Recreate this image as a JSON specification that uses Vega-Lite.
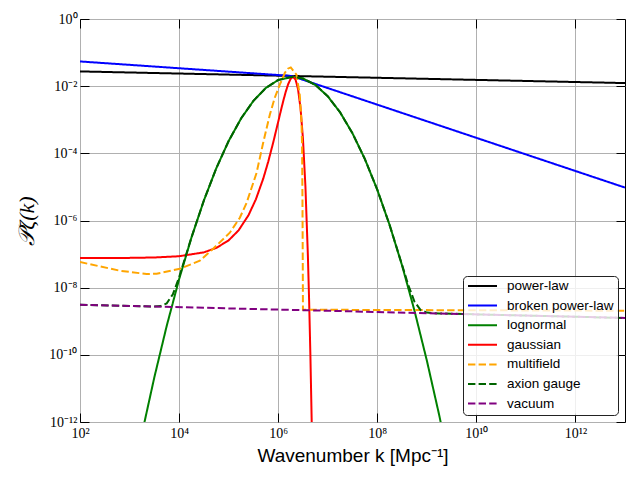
{
  "$schema": "https://vega.github.io/schema/vega-lite/v6.json",
  "width": 545,
  "height": 403,
  "autosize": {"type": "none"},
  "padding": {"left": 80, "top": 19, "right": 15, "bottom": 58},
  "background": "white",
  "config": {
    "view": {"stroke": "black", "strokeWidth": 1},
    "axis": {
      "labelFont": "Liberation Serif",
      "labelFontSize": 14,
      "labelColor": "black",
      "tickColor": "black",
      "tickWidth": 1,
      "tickSize": -9,
      "labelFlush": false,
      "labelOverlap": false,
      "domain": false,
      "gridColor": "#b0b0b0",
      "gridWidth": 1,
      "gridOpacity": 1
    },
    "legend": {
      "title": null,
      "orient": "bottom-right",
      "offset": 7,
      "fillColor": "rgba(255,255,255,0.8)",
      "strokeColor": "#222222",
      "cornerRadius": 4,
      "padding": 4,
      "labelFont": "Liberation Sans",
      "labelFontSize": 13.5,
      "labelColor": "black",
      "labelOffset": 9,
      "symbolType": "stroke",
      "symbolStrokeWidth": 2,
      "symbolSize": 841,
      "clipHeight": 12,
      "rowPadding": 5.6
    }
  },
  "datasets": {
    "curves": [
      {"series": "power-law", "k": 100, "P": 2.748e-2},
      {"series": "power-law", "k": 3.162e7, "P": 1.843e-2},
      {"series": "power-law", "k": 1e13, "P": 1.236e-2},

      {"series": "broken power-law", "k": 100, "P": 5.445e-2},
      {"series": "broken power-law", "k": 1.862e6, "P": 2.014e-2},
      {"series": "broken power-law", "k": 1e13, "P": 9.55e-6},

      {"series": "lognormal", "k": 1000, "P": 6.761e-15},
      {"series": "lognormal", "k": 1778, "P": 4.487e-13},
      {"series": "lognormal", "k": 3162, "P": 2.128e-11},
      {"series": "lognormal", "k": 5623, "P": 7.261e-10},
      {"series": "lognormal", "k": 10000, "P": 1.774e-8},
      {"series": "lognormal", "k": 17783, "P": 3.119e-7},
      {"series": "lognormal", "k": 31623, "P": 3.936e-6},
      {"series": "lognormal", "k": 56234, "P": 3.573e-5},
      {"series": "lognormal", "k": 100000, "P": 2.323e-4},
      {"series": "lognormal", "k": 177828, "P": 1.086e-3},
      {"series": "lognormal", "k": 316228, "P": 3.648e-3},
      {"series": "lognormal", "k": 562341, "P": 8.81e-3},
      {"series": "lognormal", "k": 1000000, "P": 1.524e-2},
      {"series": "lognormal", "k": 1949845, "P": 1.905e-2},
      {"series": "lognormal", "k": 3162278, "P": 1.694e-2},
      {"series": "lognormal", "k": 5623413, "P": 1.089e-2},
      {"series": "lognormal", "k": 10000000, "P": 5.012e-3},
      {"series": "lognormal", "k": 17782794, "P": 1.66e-3},
      {"series": "lognormal", "k": 31622777, "P": 3.945e-4},
      {"series": "lognormal", "k": 56234133, "P": 6.745e-5},
      {"series": "lognormal", "k": 100000000, "P": 8.26e-6},
      {"series": "lognormal", "k": 177827941, "P": 7.278e-7},
      {"series": "lognormal", "k": 316227766, "P": 4.603e-8},
      {"series": "lognormal", "k": 562341325, "P": 2.094e-9},
      {"series": "lognormal", "k": 1000000000, "P": 6.823e-11},
      {"series": "lognormal", "k": 1778279410, "P": 1.6e-12},
      {"series": "lognormal", "k": 3162277660, "P": 2.692e-14},

      {"series": "gaussian", "k": 100, "P": 7.621e-8},
      {"series": "gaussian", "k": 1000, "P": 7.709e-8},
      {"series": "gaussian", "k": 3162, "P": 7.925e-8},
      {"series": "gaussian", "k": 10000, "P": 8.63e-8},
      {"series": "gaussian", "k": 31623, "P": 1.125e-7},
      {"series": "gaussian", "k": 56234, "P": 1.521e-7},
      {"series": "gaussian", "k": 100000, "P": 2.564e-7},
      {"series": "gaussian", "k": 158489, "P": 5.07e-7},
      {"series": "gaussian", "k": 251189, "P": 1.429e-6},
      {"series": "gaussian", "k": 354813, "P": 4.276e-6},
      {"series": "gaussian", "k": 501187, "P": 1.791e-5},
      {"series": "gaussian", "k": 630957, "P": 5.702e-5},
      {"series": "gaussian", "k": 794328, "P": 2.109e-4},
      {"series": "gaussian", "k": 1000000, "P": 8.65e-4},
      {"series": "gaussian", "k": 1122018, "P": 1.762e-3},
      {"series": "gaussian", "k": 1258925, "P": 3.508e-3},
      {"series": "gaussian", "k": 1412538, "P": 6.607e-3},
      {"series": "gaussian", "k": 1584893, "P": 1.127e-2},
      {"series": "gaussian", "k": 1778279, "P": 1.644e-2},
      {"series": "gaussian", "k": 1995262, "P": 1.905e-2},
      {"series": "gaussian", "k": 2238721, "P": 1.585e-2},
      {"series": "gaussian", "k": 2511886, "P": 8.279e-3},
      {"series": "gaussian", "k": 2818383, "P": 2.296e-3},
      {"series": "gaussian", "k": 3162278, "P": 2.71e-4},
      {"series": "gaussian", "k": 3548134, "P": 1.023e-5},
      {"series": "gaussian", "k": 3981072, "P": 8.57e-8},
      {"series": "gaussian", "k": 4216965, "P": 3.864e-9},
      {"series": "gaussian", "k": 4466836, "P": 9.931e-11},
      {"series": "gaussian", "k": 4731513, "P": 1.34e-12},
      {"series": "gaussian", "k": 5011872, "P": 8.71e-15},

      {"series": "multifield", "k": 100, "P": 5.807e-8},
      {"series": "multifield", "k": 252.9, "P": 4.295e-8},
      {"series": "multifield", "k": 639.7, "P": 3.192e-8},
      {"series": "multifield", "k": 2213, "P": 2.547e-8},
      {"series": "multifield", "k": 3516, "P": 2.6e-8},
      {"series": "multifield", "k": 10375, "P": 3.664e-8},
      {"series": "multifield", "k": 26242, "P": 6.339e-8},
      {"series": "multifield", "k": 48753, "P": 1.445e-7},
      {"series": "multifield", "k": 105682, "P": 4.325e-7},
      {"series": "multifield", "k": 168267, "P": 1.211e-6},
      {"series": "multifield", "k": 229615, "P": 3.319e-6},
      {"series": "multifield", "k": 365595, "P": 2.594e-5},
      {"series": "multifield", "k": 496592, "P": 2.028e-4},
      {"series": "multifield", "k": 677642, "P": 1.413e-3},
      {"series": "multifield", "k": 853100, "P": 4.529e-3},
      {"series": "multifield", "k": 1076465, "P": 1.104e-2},
      {"series": "multifield", "k": 1358313, "P": 2.466e-2},
      {"series": "multifield", "k": 1563148, "P": 3.311e-2},
      {"series": "multifield", "k": 1794734, "P": 3.622e-2},
      {"series": "multifield", "k": 2338721, "P": 2.193e-2},
      {"series": "multifield", "k": 2722701, "P": 5.572e-3},
      {"series": "multifield", "k": 2951209, "P": 8.933e-4},
      {"series": "multifield", "k": 3033891, "P": 1.807e-4},
      {"series": "multifield", "k": 3090295, "P": 4.159e-6},
      {"series": "multifield", "k": 3133286, "P": 6.792e-8},
      {"series": "multifield", "k": 3162278, "P": 2.203e-9},
      {"series": "multifield", "k": 1e13, "P": 2.056e-9},

      {"series": "axion gauge", "k": 100, "P": 3.09e-9},
      {"series": "axion gauge", "k": 1000, "P": 2.844e-9},
      {"series": "axion gauge", "k": 1778, "P": 2.79e-9},
      {"series": "axion gauge", "k": 3162, "P": 2.756e-9},
      {"series": "axion gauge", "k": 4217, "P": 2.833e-9},
      {"series": "axion gauge", "k": 5623, "P": 3.406e-9},
      {"series": "axion gauge", "k": 7499, "P": 6.392e-9},
      {"series": "axion gauge", "k": 10000, "P": 2.036e-8},
      {"series": "axion gauge", "k": 17783, "P": 3.145e-7},
      {"series": "axion gauge", "k": 31623, "P": 3.939e-6},
      {"series": "axion gauge", "k": 56234, "P": 3.573e-5},
      {"series": "axion gauge", "k": 100000, "P": 2.323e-4},
      {"series": "axion gauge", "k": 177828, "P": 1.086e-3},
      {"series": "axion gauge", "k": 316228, "P": 3.648e-3},
      {"series": "axion gauge", "k": 562341, "P": 8.81e-3},
      {"series": "axion gauge", "k": 1000000, "P": 1.524e-2},
      {"series": "axion gauge", "k": 1949845, "P": 1.905e-2},
      {"series": "axion gauge", "k": 3162278, "P": 1.694e-2},
      {"series": "axion gauge", "k": 5623413, "P": 1.089e-2},
      {"series": "axion gauge", "k": 10000000, "P": 5.012e-3},
      {"series": "axion gauge", "k": 17782794, "P": 1.66e-3},
      {"series": "axion gauge", "k": 31622777, "P": 3.945e-4},
      {"series": "axion gauge", "k": 56234133, "P": 6.745e-5},
      {"series": "axion gauge", "k": 100000000, "P": 8.26e-6},
      {"series": "axion gauge", "k": 177827941, "P": 7.297e-7},
      {"series": "axion gauge", "k": 316227766, "P": 4.785e-8},
      {"series": "axion gauge", "k": 421696503, "P": 1.203e-8},
      {"series": "axion gauge", "k": 562341325, "P": 3.872e-9},
      {"series": "axion gauge", "k": 749894209, "P": 2.154e-9},
      {"series": "axion gauge", "k": 1000000000, "P": 1.81e-9},
      {"series": "axion gauge", "k": 1778279410, "P": 1.708e-9},
      {"series": "axion gauge", "k": 3162277660, "P": 1.671e-9},
      {"series": "axion gauge", "k": 1e13, "P": 1.253e-9},

      {"series": "vacuum", "k": 100, "P": 3.09e-9},
      {"series": "vacuum", "k": 3.162e7, "P": 1.968e-9},
      {"series": "vacuum", "k": 1e13, "P": 1.253e-9}
    ]
  },
  "data": {"name": "curves"},
  "layer": [
    {
      "mark": {"type": "line", "clip": true, "strokeWidth": 2},
      "encoding": {
        "x": {
          "field": "k",
          "type": "quantitative",
          "scale": {"type": "log", "domain": [100, 1e13], "nice": false},
          "axis": {
            "orient": "bottom",
            "values": [100, 1e4, 1e6, 1e8, 1e10, 1e12],
            "labelExpr": "datum.value < 1e3 ? '10²' : datum.value < 1e5 ? '10⁴' : datum.value < 1e7 ? '10⁶' : datum.value < 1e9 ? '10⁸' : datum.value < 1e11 ? '10¹⁰' : '10¹²'",
            "labelPadding": 13,
            "grid": true,
            "title": "Wavenumber k [Mpc⁻¹]",
            "titleFont": "Liberation Sans",
            "titleFontSize": 19,
            "titleFontWeight": "normal",
            "titleColor": "black",
            "titlePadding": 6
          }
        },
        "y": {
          "field": "P",
          "type": "quantitative",
          "scale": {"type": "log", "domain": [1e-12, 1], "nice": false},
          "axis": {
            "orient": "left",
            "values": [1, 1e-2, 1e-4, 1e-6, 1e-8, 1e-10, 1e-12],
            "labelExpr": "datum.value > 0.1 ? '10⁰' : datum.value > 1e-3 ? '10⁻²' : datum.value > 1e-5 ? '10⁻⁴' : datum.value > 1e-7 ? '10⁻⁶' : datum.value > 1e-9 ? '10⁻⁸' : datum.value > 1e-11 ? '10⁻¹⁰' : '10⁻¹²'",
            "labelPadding": 12,
            "grid": true,
            "title": "𝒫ζ(k)",
            "titleFont": "Liberation Serif",
            "titleFontStyle": "italic",
            "titleFontSize": 22,
            "titleFontWeight": "normal",
            "titleColor": "black",
            "titlePadding": 10
          }
        },
        "color": {
          "field": "series",
          "type": "nominal",
          "scale": {
            "domain": ["power-law", "broken power-law", "lognormal", "gaussian", "multifield", "axion gauge", "vacuum"],
            "range": ["#000000", "#0000ff", "#008000", "#ff0000", "#ffa500", "#006400", "#800080"]
          }
        },
        "strokeDash": {
          "field": "series",
          "type": "nominal",
          "scale": {
            "domain": ["power-law", "broken power-law", "lognormal", "gaussian", "multifield", "axion gauge", "vacuum"],
            "range": [[1, 0], [1, 0], [1, 0], [1, 0], [7.4, 3.2], [7.4, 3.2], [7.4, 3.2]]
          }
        }
      }
    },
    {
      "mark": {"type": "point", "opacity": 0},
      "encoding": {
        "x": {
          "field": "k",
          "type": "quantitative",
          "scale": {"type": "log", "domain": [100, 1e13], "nice": false},
          "axis": {
            "orient": "top",
            "values": [100, 1e4, 1e6, 1e8, 1e10, 1e12],
            "labels": false,
            "grid": false,
            "title": null
          }
        },
        "y": {
          "field": "P",
          "type": "quantitative",
          "scale": {"type": "log", "domain": [1e-12, 1], "nice": false},
          "axis": {
            "orient": "right",
            "values": [1, 1e-2, 1e-4, 1e-6, 1e-8, 1e-10, 1e-12],
            "labels": false,
            "grid": false,
            "title": null
          }
        }
      }
    }
  ],
  "resolve": {"axis": {"x": "independent", "y": "independent"}}
}
